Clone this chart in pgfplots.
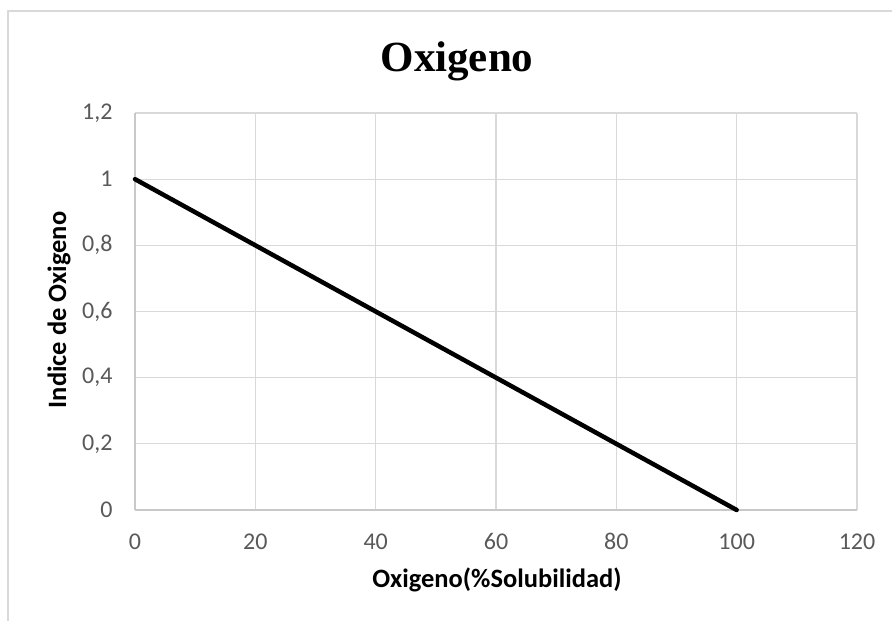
\documentclass[border=0pt]{standalone}
\usepackage{fontspec}
\setmainfont{Carlito}
\newfontfamily\titlefont{Liberation Serif}
\usepackage{pgfplots}
\pgfplotsset{compat=1.18}
\definecolor{gridgray}{HTML}{D9D9D9}
\definecolor{axisgray}{HTML}{C8C8C8}
\definecolor{ticktext}{HTML}{595959}
\begin{document}
\begin{tikzpicture}[x=1pt,y=1pt]
\useasboundingbox (0,0) rectangle (892,621);
\fill[white] (0,0) rectangle (892,621);
% chart area frame
\draw[gridgray, line width=1.5pt] (8,-5) -- (8,610) -- (900,610);
\begin{axis}[
  at={(135pt,111pt)}, anchor=south west,
  scale only axis, width=722pt, height=397pt,
  xmin=0, xmax=120, ymin=0, ymax=1.2,
  xtick={0,20,...,120},
  ytick={0,0.2,0.4,0.6,0.8,1,1.2},
  grid=major,
  major grid style={gridgray, line width=1.2pt},
  axis line style={draw=none},
  tick style={draw=none},
  /pgf/number format/assume math mode=true,
  /pgf/number format/use comma,
  ticklabel style={font=\fontsize{24}{28}\selectfont, text=ticktext},
  xticklabel style={anchor=base, yshift=-40pt, text height=16pt, text depth=0pt},
  yticklabel style={anchor=east, xshift=-19pt},
  clip=false,
]
\draw[axisgray, line width=1.2pt] (axis cs:0,0) -- (axis cs:120,0);
\draw[axisgray, line width=1.2pt] (axis cs:0,0) -- (axis cs:0,1.2);
\addplot[black, line width=4.5pt, line cap=round] coordinates {(0,1) (100,0)};
\end{axis}
\node[anchor=base, font=\titlefont\bfseries\fontsize{43}{50}\selectfont] at (457,549) {Oxigeno};
\node[anchor=base, font=\bfseries\fontsize{26.5}{30}\selectfont] at (497,33) {Oxigeno(\%Solubilidad)};
\node[anchor=base, rotate=90, font=\bfseries\fontsize{26.5}{30}\selectfont] at (66,311) {Indice de Oxigeno};
\end{tikzpicture}
\end{document}
